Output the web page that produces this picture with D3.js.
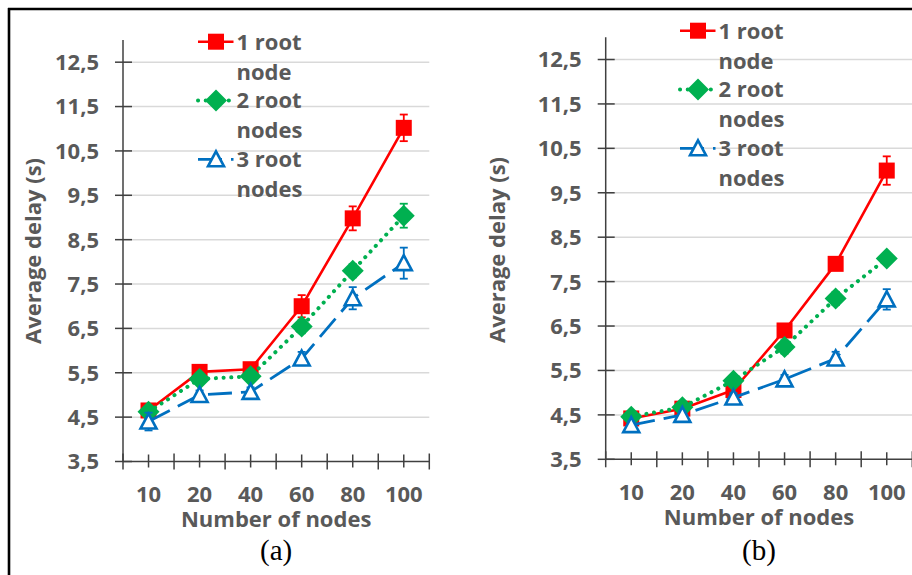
<!DOCTYPE html>
<html>
<head>
<meta charset="utf-8">
<script src="https://cdn.jsdelivr.net/npm/d3@7"></script>
<style>
  html, body { margin: 0; padding: 0; background: #fff; }
  svg { display: block; }
  .lbl { font-family: "Open Sans", "Liberation Sans", sans-serif; font-weight: 700; fill: #595959; }
  .cap { font-family: "Liberation Serif", "DejaVu Serif", serif; fill: #000; }
</style>
</head>
<body>
<svg id="fig" width="912" height="575"></svg>
<script>
// Categories (number of nodes) and y-axis ticks
const categories = ["10", "20", "40", "60", "80", "100"];
const yTicks = [3.5, 4.5, 5.5, 6.5, 7.5, 8.5, 9.5, 10.5, 11.5, 12.5];
const seriesNames = ["1 root\nnode", "2 root\nnodes", "3 root\nnodes"];

// Panel (a): average delay (s) and error-bar half widths
const delayA1 = [4.65, 5.52, 5.58, 7.00, 8.98, 11.02];
const delayA2 = [4.62, 5.36, 5.42, 6.54, 7.80, 9.04];
const delayA3 = [4.40, 5.00, 5.07, 5.82, 7.18, 7.97];
const errA1 = [0.10, 0.10, 0.10, 0.25, 0.27, 0.30];
const errA2 = [0.10, 0.10, 0.10, 0.15, 0.15, 0.27];
const errA3 = [0.20, 0.10, 0.10, 0.15, 0.25, 0.35];

// Panel (b)
const delayB1 = [4.42, 4.64, 5.06, 6.40, 7.90, 10.00];
const delayB2 = [4.46, 4.67, 5.27, 6.03, 7.12, 8.02];
const delayB3 = [4.27, 4.50, 4.89, 5.30, 5.77, 7.10];
const errB1 = [0.08, 0.08, 0.08, 0.10, 0.12, 0.32];
const errB2 = [0.08, 0.08, 0.10, 0.15, 0.15, 0.12];
const errB3 = [0.08, 0.08, 0.10, 0.10, 0.15, 0.23];

const svg = d3.select("#fig");
svg.append("rect").attr("width", 912).attr("height", 575).attr("fill", "#fff");

// Figure frame (top and left edges)
svg.append("line").attr("x1", 8).attr("x2", 912).attr("y1", 9).attr("y2", 9)
  .attr("stroke", "#000").attr("stroke-width", 2.6);
svg.append("line").attr("x1", 9).attr("x2", 9).attr("y1", 8).attr("y2", 575)
  .attr("stroke", "#000").attr("stroke-width", 2.6);

const styles = [
  { color: "#ff0000", dash: null, width: 2.6, cap: "butt", marker: "square" },
  { color: "#00b050", dash: "0.1 7.6", width: 4, cap: "round", marker: "diamond" },
  { color: "#0070c0", dash: "24 9", width: 2.8, cap: "butt", marker: "triangle" }
];

function drawMarker(g, kind, x, y, color) {
  if (kind === "square") {
    g.append("rect").attr("x", x - 8).attr("y", y - 8).attr("width", 16).attr("height", 16)
      .attr("fill", color);
  } else if (kind === "diamond") {
    g.append("path").attr("d", `M${x},${y - 11}L${x + 11},${y}L${x},${y + 11}L${x - 11},${y}Z`)
      .attr("fill", color);
  } else {
    g.append("path").attr("d", `M${x},${y - 8}L${x + 8},${y + 7}L${x - 8},${y + 7}Z`)
      .attr("fill", "#fff").attr("stroke", color).attr("stroke-width", 2.6)
      .attr("stroke-linejoin", "miter");
  }
}

function drawPanel(p) {
  const g = svg.append("g");
  const x = d3.scaleBand().domain(categories).range([p.x0, p.x1]).padding(0);
  const y = d3.scaleLinear().domain([3.5, 13]).range([p.yBottom, p.yTop]);
  const cx = c => x(c) + x.bandwidth() / 2;

  // Horizontal gridlines
  g.selectAll(".grid").data(yTicks.slice(1)).join("line")
    .attr("x1", p.x0).attr("x2", p.x1)
    .attr("y1", d => y(d)).attr("y2", d => y(d))
    .attr("stroke", "#d9d9d9").attr("stroke-width", 1.5);

  // Y axis with crossing ticks
  const yAxis = d3.axisLeft(y).tickValues(yTicks).tickSize(0).tickFormat(() => "");
  const ya = g.append("g").attr("transform", `translate(${p.x0},0)`).call(yAxis);
  ya.select(".domain").remove();
  g.append("line").attr("x1", p.x0).attr("x2", p.x0).attr("y1", p.yTop).attr("y2", p.yBottom)
    .attr("stroke", "#404040").attr("stroke-width", 1.5);
  g.selectAll(".ytick").data(yTicks).join("line")
    .attr("x1", p.x0 - 8).attr("x2", p.x0 + 9)
    .attr("y1", d => y(d)).attr("y2", d => y(d))
    .attr("stroke", "#404040").attr("stroke-width", 1.5);
  g.selectAll(".ylab").data(yTicks).join("text").attr("class", "lbl")
    .attr("x", p.x0 - 24).attr("y", d => y(d)).attr("dy", "0.36em")
    .attr("text-anchor", "end").attr("font-size", 22)
    .text(d => d3.format(".1f")(d).replace(".", ","));

  // X axis: boundary ticks and centre ticks, both crossing the axis
  g.append("line").attr("x1", p.x0).attr("x2", p.x1).attr("y1", p.yBottom).attr("y2", p.yBottom)
    .attr("stroke", "#404040").attr("stroke-width", 1.5);
  const bounds = categories.map(c => x(c)).concat([p.x1]);
  g.selectAll(".xb").data(bounds).join("line")
    .attr("x1", d => d).attr("x2", d => d)
    .attr("y1", p.yBottom - 8).attr("y2", p.yBottom + 8)
    .attr("stroke", "#404040").attr("stroke-width", 1.5);
  g.selectAll(".xc").data(categories).join("line")
    .attr("x1", d => cx(d)).attr("x2", d => cx(d))
    .attr("y1", p.yBottom - 7).attr("y2", p.yBottom + 6)
    .attr("stroke", "#404040").attr("stroke-width", 1.5);
  g.selectAll(".xlab").data(categories).join("text").attr("class", "lbl")
    .attr("x", d => cx(d)).attr("y", p.yBottom + 33).attr("dy", "0.36em")
    .attr("text-anchor", "middle").attr("font-size", 22).text(d => d);

  // Axis titles and caption
  const midX = (p.x0 + p.x1) / 2;
  g.append("text").attr("class", "lbl").attr("x", midX).attr("y", p.yBottom + 58)
    .attr("dy", "0.36em").attr("text-anchor", "middle").attr("font-size", 22)
    .text("Number of nodes");
  g.append("text").attr("class", "lbl")
    .attr("transform", `translate(${p.titleX},${p.titleY}) rotate(-90)`)
    .attr("dy", "0.36em").attr("text-anchor", "middle").attr("font-size", 22)
    .text("Average delay (s)");
  g.append("text").attr("class", "cap").attr("x", midX).attr("y", 560)
    .attr("text-anchor", "middle").attr("font-size", 29).text(p.caption);

  // Series: line, error bars, markers
  p.series.forEach((vals, si) => {
    const st = styles[si];
    const pts = categories.map((c, i) => ({ c, v: vals[i], e: p.errors[si][i] }));
    const line = d3.line().x(d => cx(d.c)).y(d => y(d.v));
    g.append("path").attr("d", line(pts)).attr("fill", "none")
      .attr("stroke", st.color).attr("stroke-width", st.width)
      .attr("stroke-linecap", st.cap).attr("stroke-linejoin", "round")
      .attr("stroke-dasharray", st.dash);
    pts.forEach(d => {
      const px = cx(d.c);
      const eb = g.append("g").attr("stroke", st.color).attr("stroke-width", 1.8);
      eb.append("line").attr("x1", px).attr("x2", px).attr("y1", y(d.v - d.e)).attr("y2", y(d.v + d.e));
      eb.append("line").attr("x1", px - 4).attr("x2", px + 4).attr("y1", y(d.v - d.e)).attr("y2", y(d.v - d.e));
      eb.append("line").attr("x1", px - 4).attr("x2", px + 4).attr("y1", y(d.v + d.e)).attr("y2", y(d.v + d.e));
      drawMarker(g, st.marker, px, y(d.v), st.color);
    });
  });

  // Legend (no background: gridlines stay visible)
  seriesNames.forEach((name, si) => {
    const st = styles[si];
    const ly = p.legY + si * 58.8;
    const lx = p.legX;
    g.append("line").attr("x1", lx - 18).attr("x2", si === 1 ? lx + 13 : lx + 17.5)
      .attr("y1", ly).attr("y2", ly)
      .attr("stroke", st.color).attr("stroke-width", st.width)
      .attr("stroke-linecap", st.cap).attr("stroke-dasharray", st.dash);
    drawMarker(g, st.marker, lx, ly, st.color);
    name.split("\n").forEach((t, li) => {
      g.append("text").attr("class", "lbl").attr("x", lx + 20.5).attr("y", ly + li * 30)
        .attr("dy", "0.36em").attr("font-size", 22).text(t);
    });
  });
}

drawPanel({
  x0: 123, x1: 429.3, yTop: 40, yBottom: 461.5,
  titleX: 33, titleY: 251, caption: "(a)",
  legX: 216, legY: 41.7,
  series: [delayA1, delayA2, delayA3], errors: [errA1, errA2, errA3]
});
drawPanel({
  x0: 605.7, x1: 912.3, yTop: 37.3, yBottom: 459.3,
  titleX: 497, titleY: 250, caption: "(b)",
  legX: 698, legY: 30.7,
  series: [delayB1, delayB2, delayB3], errors: [errB1, errB2, errB3]
});
</script>
</body>
</html>
